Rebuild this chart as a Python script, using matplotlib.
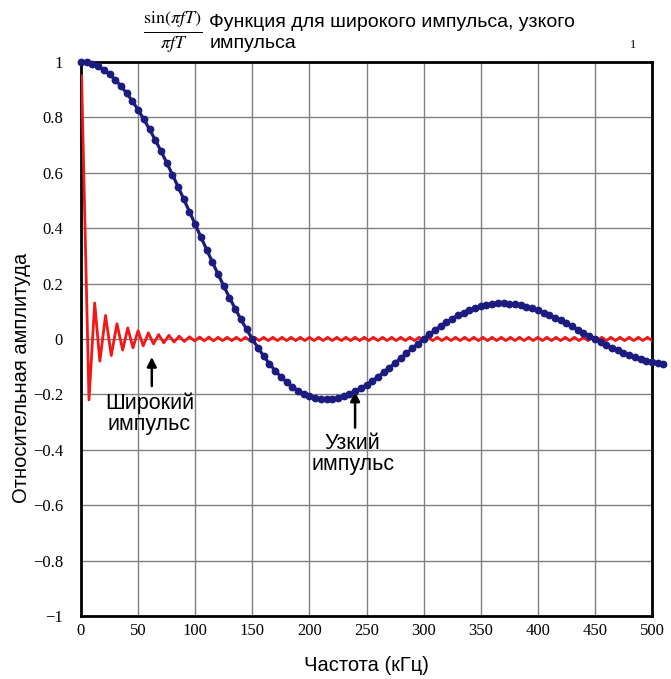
import matplotlib.pyplot as plt
import numpy as np

# narrow pulse (blue), read every 5 kHz
narrow_f = list(range(0, 515, 5))
narrow_y = [
    1.0000, 0.9982, 0.9927, 0.9836, 0.9710, 0.9549, 0.9355, 0.9128, 0.8871, 0.8584,
    0.8270, 0.7931, 0.7568, 0.7185, 0.6784, 0.6366, 0.5936, 0.5494, 0.5046, 0.4591,
    0.4135, 0.3679, 0.3226, 0.2778, 0.2339, 0.1910, 0.1494, 0.1093, 0.0709, 0.0344,
    0.0000, -0.0322, -0.0620, -0.0894, -0.1142, -0.1364, -0.1559, -0.1727, -0.1867, -0.1981,
    -0.2067, -0.2128, -0.2162, -0.2172, -0.2158, -0.2122, -0.2065, -0.1987, -0.1892, -0.1780,
    -0.1654, -0.1515, -0.1365, -0.1206, -0.1039, -0.0868, -0.0694, -0.0518, -0.0342, -0.0169,
    0.0000, 0.0164, 0.0320, 0.0468, 0.0607, 0.0735, 0.0850, 0.0954, 0.1044, 0.1120,
    0.1181, 0.1229, 0.1261, 0.1280, 0.1283, 0.1273, 0.1250, 0.1213, 0.1164, 0.1104,
    0.1034, 0.0954, 0.0865, 0.0770, 0.0668, 0.0562, 0.0452, 0.0339, 0.0226, 0.0112,
    0.0000, -0.0110, -0.0216, -0.0317, -0.0413, -0.0503, -0.0585, -0.0659, -0.0724, -0.0780,
    -0.0827, -0.0864, -0.0890,
]

# wide pulse (red): main lobe and first side lobes, read at peaks/troughs
wide_f_head = [0.5, 7.0, 12.0, 16.5, 21.5, 26.5, 31.5, 36.5, 41.0, 45.5, 50.0, 54.5,
               59.0, 63.5, 68.0, 72.5, 77.0, 81.5, 86.0, 90.5, 95.0, 99.5, 104.0]
wide_y_head = [0.95, -0.22, 0.13, -0.08, 0.085, -0.06, 0.055, -0.04, 0.04, -0.032, 0.03, -0.025,
               0.022, -0.018, 0.016, -0.014, 0.013, -0.011, 0.010, -0.009, 0.008, -0.007, 0.007]
# small residual ripple, every 4 kHz from 108 to 500 kHz
wide_f_tail = list(np.arange(108, 501, 4))
wide_y_tail = [
    -0.007, 0.007, -0.007, 0.006, -0.006, 0.006, -0.006, 0.006, -0.006, 0.006,
    -0.006, 0.006, -0.006, 0.006, -0.006, 0.006, -0.006, 0.006, -0.006, 0.006,
    -0.006, 0.006, -0.006, 0.006, -0.006, 0.006, -0.006, 0.006, -0.006, 0.006,
    -0.006, 0.006, -0.006, 0.006, -0.006, 0.006, -0.006, 0.006, -0.006, 0.006,
    -0.006, 0.006, -0.006, 0.006, -0.006, 0.006, -0.006, 0.006, -0.006, 0.006,
    -0.006, 0.006, -0.006, 0.006, -0.006, 0.006, -0.006, 0.006, -0.006, 0.006,
    -0.006, 0.006, -0.006, 0.006, -0.006, 0.006, -0.006, 0.006, -0.006, 0.006,
    -0.006, 0.006, -0.006, 0.006, -0.006, 0.006, -0.006, 0.006, -0.006, 0.006,
    -0.006, 0.006, -0.006, 0.006, -0.006, 0.006, -0.006, 0.006, -0.006, 0.006,
    -0.006, 0.006, -0.006, 0.006, -0.006, 0.006, -0.006, 0.006, -0.006,
]
wide_f = wide_f_head + wide_f_tail
wide_y = wide_y_head + wide_y_tail[:len(wide_f_tail)]

x_ticks = [0, 50, 100, 150, 200, 250, 300, 350, 400, 450, 500]
y_ticks = [-1, -0.8, -0.6, -0.4, -0.2, 0, 0.2, 0.4, 0.6, 0.8, 1]
y_tick_labels = ["\u22121", "\u22120.8", "\u22120.6", "\u22120.4", "\u22120.2", "0",
                 "0.2", "0.4", "0.6", "0.8", "1"]

sans = "Liberation Sans"
serif = "Liberation Serif"

fig = plt.figure(figsize=(6.71, 6.79), dpi=100)
ax = fig.add_axes([0.1207, 0.0928, 0.851, 0.816])

ax.plot(wide_f, wide_y, color="#f01818", linewidth=2.0, zorder=3, solid_joinstyle="round")
ax.plot(narrow_f, narrow_y, color="#1c1c80", linewidth=2.3, marker="o", markersize=4.6,
        zorder=4, clip_on=False)

ax.set_xlim(0, 500)
ax.set_ylim(-1, 1)
ax.set_xticks(x_ticks)
ax.set_yticks(y_ticks)
ax.set_yticklabels(y_tick_labels)
ax.tick_params(length=0, labelsize=12)
ax.tick_params(axis="y", pad=13)
ax.tick_params(axis="x", pad=5)
for lbl in ax.get_xticklabels() + ax.get_yticklabels():
    lbl.set_family(serif)
ax.grid(True, color="#808080", linewidth=1.0)
ax.set_axisbelow(True)
for sp in ax.spines.values():
    sp.set_linewidth(2.0)
    sp.set_color("black")

ax.set_xlabel("Частота (кГц)", family=sans, fontsize=14.5, labelpad=12)
ax.set_ylabel("Относительная амплитуда", family=sans, fontsize=14.5)
ax.yaxis.set_label_coords(-0.088, 0.43)

# annotations
ax.annotate("", xy=(62, -0.055), xytext=(62, -0.18),
            arrowprops=dict(arrowstyle="-|>", color="black", lw=1.8, mutation_scale=14))
ax.text(60, -0.195, "Широкий\nимпульс", family=sans, fontsize=15.5, ha="center", va="top",
        multialignment="center", linespacing=1.0)
ax.annotate("", xy=(240, -0.18), xytext=(240, -0.33),
            arrowprops=dict(arrowstyle="-|>", color="black", lw=1.8, mutation_scale=14))
ax.text(238, -0.34, "Узкий\nимпульс", family=sans, fontsize=15.5, ha="center", va="top",
        multialignment="center", linespacing=1.0)

# title block
fig.text(0.257, 0.952, r"$\frac{\sin(\pi fT)}{\pi fT}$", fontsize=18.5, ha="center",
         va="center", math_fontfamily="stix")
fig.text(0.312, 0.924, "Функция для широкого импульса, узкого\nимпульса", family=sans,
         fontsize=14, ha="left", va="bottom", linespacing=1.25)
fig.text(0.943, 0.933, "1", family=serif, fontsize=9, ha="center", va="center")

fig.savefig("out.png", dpi=100)
